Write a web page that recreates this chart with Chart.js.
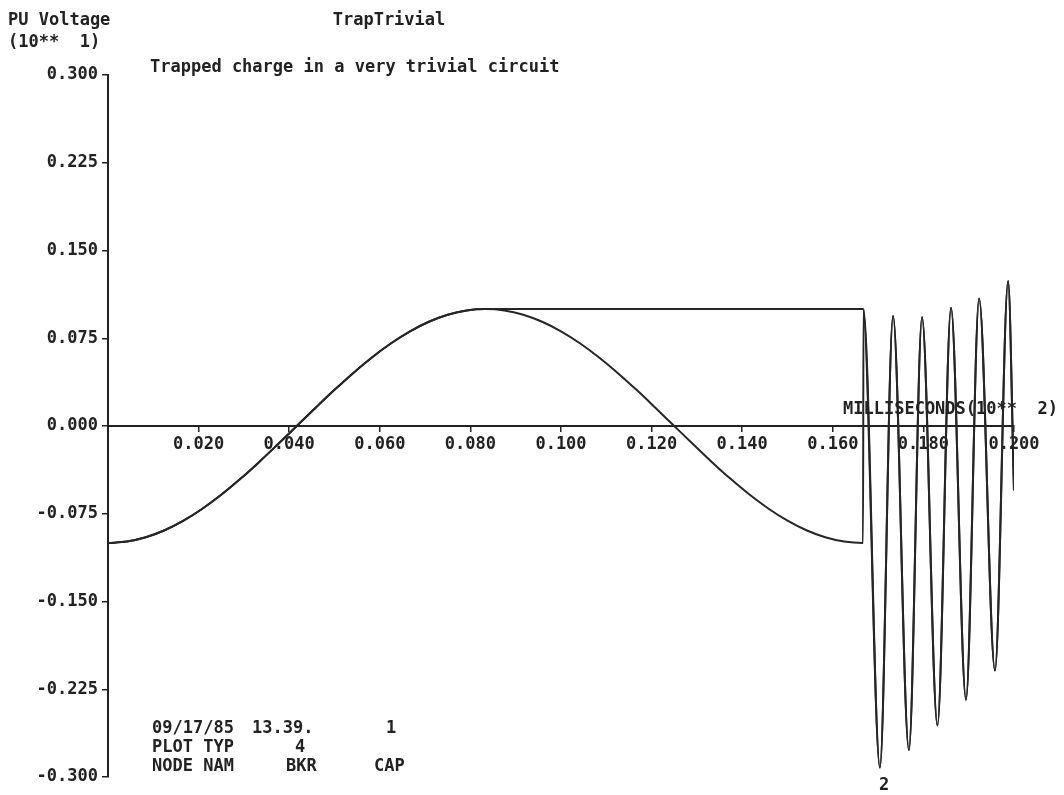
<!DOCTYPE html>
<html>
<head>
<meta charset="utf-8">
<script src="https://cdn.jsdelivr.net/npm/chart.js@4.4.1/dist/chart.umd.min.js"></script>
<style>
  html, body { margin: 0; padding: 0; background: #ffffff; }
  #c { display: block; }
</style>
</head>
<body>
<canvas id="c" width="1064" height="795"></canvas>
<script>
// ---- Data (time in ms x 10^2, voltage in PU x 10^1) ----
// Power-frequency part; both nodes follow it until the breaker opens at the peak
const tCos = [0.00000, 0.00417, 0.00833, 0.01250, 0.01667, 0.02083, 0.02500, 0.02917, 0.03333, 0.03750,
              0.04167, 0.04583, 0.05000, 0.05417, 0.05833, 0.06250, 0.06667, 0.07083, 0.07500, 0.07917,
              0.08333, 0.08750, 0.09167, 0.09583, 0.10000, 0.10417, 0.10833, 0.11250, 0.11667, 0.12083,
              0.12500, 0.12917, 0.13333, 0.13750, 0.14167, 0.14583, 0.15000, 0.15417, 0.15833, 0.16250, 0.16667];
const vCos = [-0.1000, -0.0988, -0.0951, -0.0891, -0.0809, -0.0707, -0.0588, -0.0454, -0.0309, -0.0156,
              0.0000, 0.0156, 0.0309, 0.0454, 0.0588, 0.0707, 0.0809, 0.0891, 0.0951, 0.0988,
              0.1000, 0.0988, 0.0951, 0.0891, 0.0809, 0.0707, 0.0588, 0.0454, 0.0309, 0.0156,
              0.0000, -0.0156, -0.0309, -0.0454, -0.0588, -0.0707, -0.0809, -0.0891, -0.0951, -0.0988, -0.1000];
// Trapped charge plateau on the capacitor (curve CAP)
const tPlateau = [0.16667];
const vPlateau = [0.1000];
// Jump of BKR node when the breaker recloses
const tJump = [0.16677];
const vJump = [0.1000];
// Reclosing oscillation (extremes)
const tOsc = [0.1704, 0.1733, 0.1768, 0.1797, 0.1831, 0.1861, 0.1894, 0.1923, 0.1958, 0.1987, 0.2000];
const vOsc = [-0.292, 0.094, -0.277, 0.093, -0.256, 0.101, -0.234, 0.109, -0.209, 0.124, -0.055];

const yTicks = [-0.300, -0.225, -0.150, -0.075, 0.000, 0.075, 0.150, 0.225, 0.300];
const xTicks = [0.020, 0.040, 0.060, 0.080, 0.100, 0.120, 0.140, 0.160, 0.180, 0.200];

// ---- Build series ----
function pts(ts, vs) { return ts.map((t, i) => ({ x: t, y: vs[i] })); }
const peakIdx = vCos.indexOf(Math.max(...vCos));
const seriesBKR = pts(tCos, vCos).concat(pts(tJump, vJump), pts(tOsc, vOsc));
const seriesCAP = pts(tCos.slice(0, peakIdx + 1), vCos.slice(0, peakIdx + 1))
  .concat(pts(tPlateau, vPlateau), pts(tOsc, vOsc));

const FONT = '"DejaVu Sans Mono", "Liberation Mono", monospace';
const INK = '#222222';

const annotations = {
  id: 'annotations',
  beforeDraw(chart) { chart.ctx.letterSpacing = '0px'; },
  afterDraw(chart) {
    const ctx = chart.ctx;
    ctx.save();
    ctx.fillStyle = INK;
    ctx.textBaseline = 'middle';
    ctx.textAlign = 'left';
    ctx.font = 'bold 17px ' + FONT;
    ctx.fillText('PU Voltage', 8, 21);
    ctx.fillText('(10**  1)', 8, 43);
    ctx.textAlign = 'center';
    ctx.fillText('TrapTrivial', 389, 21);
    ctx.textAlign = 'left';
    ctx.fillText('Trapped charge in a very trivial circuit', 150, 68);
    ctx.fillText('MILLISECONDS(10**  2)', 843, 410);
    ctx.fillText('09/17/85', 152, 729);
    ctx.fillText('13.39.', 252, 729);
    ctx.fillText('1', 386, 729);
    ctx.fillText('PLOT TYP', 152, 748);
    ctx.fillText('4', 295, 748);
    ctx.fillText('NODE NAM', 152, 767);
    ctx.fillText('BKR', 286, 767);
    ctx.fillText('CAP', 374, 767);
    ctx.textAlign = 'center';
    ctx.fillText('2', 884, 786);
    ctx.restore();
  }
};

const lineStyle = {
  borderColor: '#262626',
  borderWidth: 2,
  pointRadius: 0,
  fill: false,
  cubicInterpolationMode: 'monotone'
};

new Chart(document.getElementById('c'), {
  type: 'line',
  data: {
    datasets: [
      Object.assign({ label: 'BKR', data: seriesBKR }, lineStyle),
      Object.assign({ label: 'CAP', data: seriesCAP }, lineStyle)
    ]
  },
  options: {
    responsive: false,
    devicePixelRatio: 1,
    animation: false,
    layout: { padding: { top: 75, bottom: 18, left: 0, right: 50 } },
    plugins: { legend: { display: false }, tooltip: { enabled: false }, title: { display: false } },
    scales: {
      x: {
        type: 'linear',
        position: { y: 0 },
        min: 0,
        max: 0.2,
        afterBuildTicks(scale) { scale.ticks = [0].concat(xTicks).map(v => ({ value: v })); },
        afterFit(scale) { scale.height = 0; },
        ticks: {
          autoSkip: false,
          maxRotation: 0,
          padding: 3,
          color: INK,
          font: { family: FONT, size: 17, weight: 'bold' },
          callback: (v) => (v === 0 ? '' : Number(v).toFixed(3))
        },
        grid: { drawOnChartArea: false, drawTicks: true, tickLength: 5, color: INK, lineWidth: 1.5 },
        border: { display: true, color: INK, width: 2 }
      },
      y: {
        type: 'linear',
        position: 'left',
        min: -0.3,
        max: 0.3,
        afterBuildTicks(scale) { scale.ticks = yTicks.map(v => ({ value: v })); },
        afterFit(scale) { scale.width = 108; },
        ticks: {
          autoSkip: false,
          padding: 4,
          color: INK,
          font: { family: FONT, size: 17, weight: 'bold' },
          callback: (v) => Number(v).toFixed(3)
        },
        grid: { drawOnChartArea: false, drawTicks: true, tickLength: 6, color: INK, lineWidth: 1.5 },
        border: { display: true, color: INK, width: 2 }
      }
    }
  },
  plugins: [annotations]
});
</script>
</body>
</html>
